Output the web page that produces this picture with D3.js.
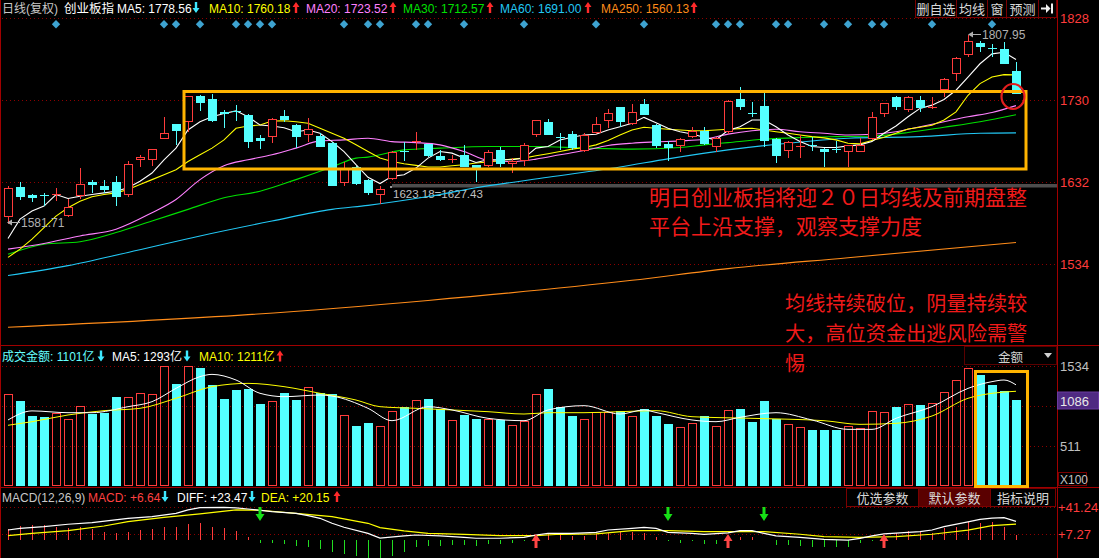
<!DOCTYPE html>
<html><head><meta charset="utf-8">
<script src="https://cdn.jsdelivr.net/npm/d3@7"></script>
<style>
html,body{margin:0;padding:0;background:#000;overflow:hidden}
svg{display:block;font-family:"Liberation Sans",Arial,"Noto Sans CJK SC",sans-serif}
</style></head><body>
<svg id="c" width="1099" height="558"></svg>
<script>
// ---------------- DATA ----------------
const opens = [1590,1626.5,1617.4,1617,1618,1591.7,1615.4,1632.5,1628,1632.5,
1617,1658.1,1658.9,1684.1,1701.6,1704.3,1735.1,1731.2,1715.4,1717.2,
1712.2,1685,1686.5,1711,1700.4,1688.5,1687.3,1679.4,1631.3,1650.2,
1635.2,1617,1636,1668.9,1680.5,1677.5,1663.6,1659.6,1664.8,1653,
1651.8,1670.7,1654.2,1657.7,1688.5,1703.6,1685.9,1689.7,1669.9,1691.2,
1705.5,1721.3,1701.2,1725.3,1700.4,1677.5,1675.5,1686.5,1693.6,1674.7,
1691.7,1731.2,1715.1,1722.9,1683.4,1669.9,1675.4,1676.8,1671.6,1671.7,
1668,1668.7,1683.4,1713.4,1734,1718.2,1730.8,1721.2,1741.9,1760.8,
1784.2,1798,1792.7,1791.3,1764.4];
const highs = [1627,1632.5,1618,1619.4,1625.4,1611.5,1649,1635.2,1635.2,1639.1,
1657.7,1664.8,1672,1710.2,1702,1735,1736,1737.1,1718.2,1724.1,
1713,1688.5,1708.3,1718.2,1701,1708.3,1691.2,1680,1655.7,1651,
1636,1627.3,1669,1680.6,1692.4,1678,1670.7,1664.8,1676.7,1653.2,
1670.7,1674.7,1660.9,1679.4,1706.5,1707.5,1691.2,1693.6,1690.5,1709.5,
1719,1722,1725.3,1732,1701,1681.4,1684.6,1697.6,1697.6,1686.5,
1730,1745.8,1727.3,1738.7,1684.6,1681.8,1688.5,1686.5,1672.8,1681.4,
1677,1684.6,1716.1,1727,1734.7,1734.5,1734.7,1734,1756,1781,
1808,1800.3,1797.2,1799.2,1775.4];
const lows = [1582,1610.6,1608,1603.6,1609.5,1591,1612.3,1619.4,1619.4,1603.6,
1614.7,1649.8,1651.8,1683.5,1676.7,1692,1717.3,1704.3,1697.2,1705.5,
1673.5,1671.6,1678.7,1704.3,1672.8,1680.7,1674,1627,1627.3,1629,
1617.4,1605.6,1635,1656.9,1670.7,1662,1657.7,1655,1650,1632,
1650.2,1650.2,1643.1,1651.8,1686.5,1688,1670,1670.7,1667.6,1690,
1696.5,1698.4,1700,1712,1672.8,1656.9,1668.7,1684.6,1677,1668.7,
1690,1718.2,1709.5,1674,1655,1661.6,1661.6,1669.9,1649.8,1666.8,
1649.8,1668,1683,1709.5,1718.2,1716.1,1716.1,1720,1734,1752.9,
1781.3,1787.3,1781.3,1773,1737.5];
const closes = [1625.4,1614.7,1613.5,1616.7,1618.3,1602.8,1630.1,1628.4,1623.3,1614.7,
1653.8,1662.1,1671.6,1690.5,1693.3,1734.7,1726.8,1705.5,1713,1716.9,
1680.6,1681.8,1707.1,1706.3,1686.5,1695.3,1674.7,1627.3,1649,1630.5,
1619.4,1624.2,1668.7,1668.6,1680.8,1662.8,1658.9,1659.9,1650.2,1649,
1668,1653.8,1656.9,1676.7,1706.3,1688.5,1685.7,1672.8,1688.5,1701.6,
1714.2,1704.3,1716.1,1712.2,1675.5,1672.8,1683.4,1693.6,1677.5,1684.6,
1729.2,1721.3,1714.9,1681.8,1663.6,1680.6,1675.7,1676.6,1667.6,1671.5,
1676.7,1676.7,1710.2,1726.8,1722.1,1734,1720.2,1721.4,1755.7,1780.6,
1800.3,1793.3,1792.5,1773.5,1737.9];

const ma5 = [1565,1588,1597.7,1603.6,1617.4,1612.7,1615.4,1617.5,1619.4,1621.3,
1625.4,1633.2,1643.1,1658.9,1672.8,1694.5,1704.3,1710.2,1714.2,1717.3,
1710.2,1700.4,1699.2,1697.2,1692.4,1694.5,1690.5,1680.6,1668.7,1653,
1638,1630.5,1639.1,1641.1,1649,1660.9,1668.7,1666.8,1660.9,1655.7,
1658.9,1658.9,1658.9,1660.9,1672.8,1674.7,1682.6,1685.8,1688.5,1689.4,
1694.5,1698.4,1702.4,1709.5,1703.2,1696.5,1692.4,1689.7,1685.8,1682.6,
1694,1698.4,1706.3,1706.3,1698.4,1688.5,1680.6,1674.7,1673.5,1673.5,
1675.5,1676.7,1680.6,1690.5,1699.2,1710.2,1720.2,1724.1,1730.8,1741.9,
1757.6,1773.5,1785.3,1787.3,1778.6];
const ma10 = [1542.4,1552.2,1564.1,1578,1591.7,1601.7,1609.5,1614.7,1617.4,1619.4,
1623.3,1629.3,1635.2,1641.1,1647.1,1656.9,1664.8,1672.8,1682.6,1696.5,
1699.2,1700.4,1705.1,1705.5,1704.3,1702.4,1696.5,1690.5,1684.6,1676.7,
1668.7,1660.9,1656.9,1654.2,1652.2,1650.2,1650.2,1651.8,1653,1655,
1656.3,1658.1,1659.7,1660.9,1663.6,1666,1668.7,1671.6,1673.5,1676.7,
1681.8,1688.5,1694.5,1697.7,1696.5,1695.3,1694.5,1693.6,1693.6,1694.5,
1695.3,1696.1,1696.5,1694.5,1692.4,1690.5,1688.5,1686.5,1685,1682.6,
1678.7,1677.9,1681.8,1685.8,1690.5,1695.6,1697.7,1700,1706.3,1716.1,
1735.9,1749.8,1757.6,1760.5,1760.2];
// sparse readings [candle index, value]
const ma20 = [[0,1552.2],[3,1559],[6,1568],[9,1576],[12,1595.7],[14,1611.5],[16,1635.2],[18,1651.8],[20,1658.9],[22,1664.8],[24,1672.8],[26,1681.4],[28,1682.6],[30,1684.6],[32,1680.6],[34,1679.4],[36,1676.7],[38,1668.7],[40,1658.1],[42,1656.9],[44,1659.7],[46,1664.8],[48,1669.9],[50,1675.9],[52,1678.7],[54,1680.2],[56,1681.4],[58,1683.4],[60,1689.5],[62,1693.6],[64,1695.3],[66,1692.4],[68,1690.5],[70,1688.5],[72,1689.4],[74,1692.4],[76,1698.4],[78,1704.3],[80,1710.2],[82,1715.4],[84,1723.5]];
const ma30 = [[0,1546],[3,1558],[6,1561],[9,1572],[12,1585.8],[15,1599.7],[18,1613.5],[21,1621.3],[24,1635.2],[27,1650.2],[29,1660.9],[30,1662.1],[33,1670.7],[36,1672.8],[40,1674.7],[44,1674.7],[48,1672.8],[52,1671.6],[56,1673.5],[58,1676.7],[60,1679.4],[63,1683.4],[66,1685.4],[69,1686.5],[72,1687.3],[75,1691.4],[78,1697.7],[81,1704.3],[84,1712.6]];
const ma60 = [[0,1520.7],[5,1532.5],[10,1548.3],[16,1568],[22,1585.8],[27,1599.7],[30,1604.5],[35,1615],[39,1625.4],[45,1638],[51,1650.2],[55,1660],[60,1670.7],[65,1678.7],[70,1684.6],[76,1686.5],[81,1690.5],[84,1691]];
const ma250 = [[0,1459],[20,1474],[35,1491],[52,1515],[60,1529],[70,1542],[84,1560.1]];

const volumes = [1176,1087,895,882,929,852,1018,920,937,1138,
1133,1185,1176,1530,1304,1530,1508,1291,1112,1227,
1240,1048,1082,1189,1099,1261,1185,1176,903,767,
805,763,954,1010,1095,1112,980,839,912,856,
856,848,775,827,1172,1240,1014,895,852,950,
950,959,895,984,895,793,750,805,895,763,
967,984,818,1087,861,788,750,716,716,716,
767,737,959,946,1010,1048,1035,1061,1202,1355,
1504,1423,1295,1219,1101];
const volMa5 = [[0,844],[2,960],[5,937],[7,937],[10,1014],[12,1078],[14,1248],[16,1398],[17,1427],[19,1355],[21,1185],[23,1142],[26,1163],[27,1150],[30,993],[32,835],[35,1014],[37,972],[40,865],[43,835],[45,972],[48,1027],[51,920],[53,972],[54,940],[57,844],[59,822],[61,878],[64,937],[67,844],[70,724],[72,724],[74,865],[77,1014],[80,1248],[82,1334],[83,1355],[84,1293]];
const volMa10 = [[0,776],[2,822],[5,908],[8,963],[11,993],[14,1121],[17,1270],[20,1312],[23,1270],[26,1185],[29,1099],[31,1014],[34,993],[37,972],[40,950],[43,920],[45,937],[48,937],[51,950],[54,963],[57,886],[62,865],[68,835],[71,788],[74,801],[77,895],[80,1121],[82,1185],[84,1211]];

const macdHist = [13.6,17.7,19,19,16.1,15.6,16.1,13.6,9.8,9.3,
10.6,12.7,14,16.9,16.9,20.3,21.9,16.9,15.6,11.8,
4.3,-4,-4,-4.9,-7,-8.3,-11.6,-14.6,-17.9,-20,
-23,-23,-20,-14.6,-8.3,-7.7,-7.7,-6.2,-6.2,-7,
-4.9,-4.5,-3.3,-1.2,1,7.7,7.3,5.2,5.6,7.3,
8.6,9.8,10.6,9.3,4.3,-1,-3.3,-1.2,-4.5,-4.5,
4,4,4,-0.5,-6,-6,-7,-8.3,-9,-9,
-8.3,-4,-1,4,9.5,11.5,10.6,9.3,14.6,16.9,
22.3,21.3,22.3,16.1,6.64];
const diffLine = [[0,12.7],[1,14.8],[3,16.9],[5,19.9],[7,21.9],[10,27.4],[12,29.4],[14,33.7],[15,38],[16,40.8],[18,41.2],[19,40.5],[20,39.1],[22,35.7],[24,33.7],[25,30.7],[26,27.4],[27,21.1],[28,16.1],[30,8.5],[31,2.5],[33,5.2],[34,6.4],[36,5.2],[38,3.5],[39,2.3],[41,2.3],[43,3.5],[44,6.4],[45,8.5],[47,8.5],[49,9.8],[50,12.7],[52,14.8],[53,16.1],[54,14.8],[55,9.8],[57,8.5],[58,7.3],[60,9],[61,12],[62,12],[63,8.5],[64,5.2],[66,3.5],[67,2.2],[68,1],[70,0],[71,2.2],[72,5.2],[73,7.7],[76,10.6],[77,12.7],[78,16.9],[80,23],[81,26.1],[82,27.7],[83,28.3],[84,23.47]];
const deaLine = [[0,5.6],[2,8.5],[5,11.9],[8,17.7],[10,23.2],[13,28.6],[16,33],[19,37.9],[21,37.5],[24,33.7],[27,29.4],[30,21.1],[31,15.6],[33,11.5],[35,8.5],[38,7.3],[41,5.5],[44,5.5],[46,7.3],[49,7.7],[52,11.8],[55,11.8],[58,10.6],[60,10.6],[63,10.6],[66,7.3],[68,4.3],[71,3.5],[74,4.3],[77,7.3],[80,12.5],[82,18.1],[84,20.15]];

const priceTicks = [1828,1730,1632,1534];
const volTicks = [1534,511];
const volGrid = [1534,1023,511];
const macdTicks = [41.24,7.27];
const signalDiamonds = [4,13,14,16,19,20,21,22,28,30,31,34,35,38,43,49,53,59,60,61,64,65,68,70,72,73,77,82];
const goldenCross = [44,60,73];
const deathCross = [21,55,63];

const mainLegend = [
  {t:"MA5: 1778.56", c:"#ffffff", dir:"down"},
  {t:"MA10: 1760.18", c:"#ffff00", dir:"up"},
  {t:"MA20: 1723.52", c:"#ff80ff", dir:"up"},
  {t:"MA30: 1712.57", c:"#00e000", dir:"up"},
  {t:"MA60: 1691.00", c:"#22c8f5", dir:"up"},
  {t:"MA250: 1560.13", c:"#ff8c1a", dir:"up"}];
const volLegend = [
  {t:"成交金额: 1101亿", c:"#66ffff", dir:"down"},
  {t:"MA5: 1293亿", c:"#ffffff", dir:"down"},
  {t:"MA10: 1211亿", c:"#ffff00", dir:"up"}];
const macdLegend = [
  {t:"MACD(12,26,9)", c:"#c8c8c8", dir:null},
  {t:"MACD: +6.64", c:"#ff4040", dir:"down"},
  {t:"DIFF: +23.47", c:"#ffffff", dir:"down"},
  {t:"DEA: +20.15", c:"#ffff00", dir:"up"}];
const topButtons = ["删自选","均线","窗","预测"];
const macdButtons = ["优选参数","默认参数","指标说明"];
const note1 = ["明日创业板指将迎２０日均线及前期盘整","平台上沿支撑，观察支撑力度"];
const note2 = ["均线持续破位，阴量持续较","大，高位资金出逃风险需警","惕"];

// ---------------- LAYOUT ----------------
const N = closes.length;
const AX = 1057;
const RED = "#ff3c3c", CYAN = "#54ffff", GRID = "#8c0000", FRAME = "#a00000";
const svg = d3.select("#c");
svg.append("rect").attr("width",1099).attr("height",558).attr("fill","#000");

const x = d3.scaleLinear().domain([0, N-1]).range([8, 1016]);
const yP = d3.scaleLinear().domain([1632,1730]).range([182.3,100.2]);
const yV = d3.scaleLinear().domain([0,1534]).range([486,366]);
const yM = d3.scaleLinear().domain([7.27,41.24]).range([534.3,507.3]);

// grids
const grid = svg.append("g").attr("stroke",GRID).attr("stroke-dasharray","1,3").attr("shape-rendering","crispEdges");
priceTicks.forEach(v=>grid.append("line").attr("x1",2).attr("x2",AX).attr("y1",Math.round(yP(v))+0.5).attr("y2",Math.round(yP(v))+0.5));
volGrid.forEach(v=>grid.append("line").attr("x1",2).attr("x2",AX).attr("y1",Math.round(yV(v))+0.5).attr("y2",Math.round(yV(v))+0.5));
macdTicks.forEach(v=>grid.append("line").attr("x1",2).attr("x2",AX).attr("y1",Math.round(yM(v))+0.5).attr("y2",Math.round(yM(v))+0.5));

// frame
const fr = svg.append("g").attr("stroke",FRAME).attr("shape-rendering","crispEdges");
fr.append("line").attr("x1",0.5).attr("x2",0.5).attr("y1",0).attr("y2",558);
fr.append("line").attr("x1",AX+0.5).attr("x2",AX+0.5).attr("y1",0).attr("y2",558);
fr.append("line").attr("x1",0).attr("x2",1099).attr("y1",345.5).attr("y2",345.5);
fr.append("line").attr("x1",0).attr("x2",1099).attr("y1",487.5).attr("y2",487.5);

// grey reference band + label
svg.append("rect").attr("x",392).attr("y",184).attr("width",AX-392).attr("height",3.5).attr("fill","#4d4d4d");
svg.append("rect").attr("x",390).attr("y",186).attr("width",2).attr("height",2).attr("fill","#9a9a9a");
svg.append("text").attr("x",393).attr("y",197.5).attr("fill","#c0c0c0").attr("font-size",11.5).text("1623.18=1627.43");

// MA lines (main)
const lineP = d3.line().x(d=>x(d[0])).y(d=>yP(d[1]));
const lineSmooth = d3.line().x(d=>x(d[0])).y(d=>yP(d[1])).curve(d3.curveMonotoneX);
const maG = svg.append("g").attr("fill","none").attr("stroke-width",1.1);
maG.append("path").attr("d",lineSmooth(ma250)).attr("stroke","#ff8c1a");
maG.append("path").attr("d",lineSmooth(ma60)).attr("stroke","#22c8f5");
maG.append("path").attr("d",lineSmooth(ma30)).attr("stroke","#00e000");
maG.append("path").attr("d",lineSmooth(ma20)).attr("stroke","#ff80ff");
maG.append("path").attr("d",lineP(ma10.map((v,i)=>[i,v]))).attr("stroke","#ffff00");
maG.append("path").attr("d",lineP(ma5.map((v,i)=>[i,v]))).attr("stroke","#ffffff");

// candles
const cg = svg.append("g").attr("shape-rendering","crispEdges");
d3.range(N).forEach(i=>{
  const cx = Math.round(x(i))+0.5, o=opens[i], c=closes[i], h=highs[i], l=lows[i];
  const up = c >= o;
  const yT = Math.round(yP(Math.max(o,c))), yB = Math.round(yP(Math.min(o,c)));
  if (up) {
    cg.append("line").attr("x1",cx).attr("x2",cx).attr("y1",yP(h)).attr("y2",yT).attr("stroke",RED);
    cg.append("line").attr("x1",cx).attr("x2",cx).attr("y1",yB).attr("y2",yP(l)).attr("stroke",RED);
    cg.append("rect").attr("x",cx-4).attr("y",yT+0.5).attr("width",8).attr("height",Math.max(0.01,yB-yT-1))
      .attr("fill","#000").attr("stroke",RED);
  } else {
    cg.append("line").attr("x1",cx).attr("x2",cx).attr("y1",yP(h)).attr("y2",yP(l)).attr("stroke",CYAN);
    cg.append("rect").attr("x",cx-4.5).attr("y",yT).attr("width",9).attr("height",Math.max(1,yB-yT)).attr("fill",CYAN);
  }
});

// signal diamonds
svg.append("g").selectAll("path").data(signalDiamonds).join("path")
  .attr("d",d=>`M${x(d)},20 L${x(d)+4.2},24.3 L${x(d)},28.6 L${x(d)-4.2},24.3 Z`).attr("fill","#3ea3d0");

// annotation boxes
svg.append("rect").attr("x",184).attr("y",91.5).attr("width",842).attr("height",77.5).attr("fill","none").attr("stroke","#ffb400").attr("stroke-width",3);
svg.append("ellipse").attr("cx",1013).attr("cy",96.5).attr("rx",11.5).attr("ry",12.5).attr("fill","none").attr("stroke","#e41e1e").attr("stroke-width",2.2);

// extreme labels
function leftArrow(x0,x1,y,col){
  svg.append("line").attr("x1",x0+3).attr("x2",x1).attr("y1",y).attr("y2",y).attr("stroke",col);
  svg.append("path").attr("d",`M${x0},${y} L${x0+5},${y-3} L${x0+5},${y+3} Z`).attr("fill",col);
}
leftArrow(7,20,222.5,"#b0b0b0");
svg.append("text").attr("x",21).attr("y",227).attr("fill","#b0b0b0").attr("font-size",12).text(d3.format(".2f")(1581.71));
leftArrow(968,981,34.5,"#b0b0b0");
svg.append("text").attr("x",982).attr("y",39).attr("fill","#b0b0b0").attr("font-size",12).text(d3.format(".2f")(1807.95));

// red comments
const nt = svg.append("g").attr("fill","#f01a1a").attr("font-family","'Noto Sans CJK SC',sans-serif");
note1.forEach((t,k)=>nt.append("text").attr("x",649).attr("y",196+k*29).attr("font-size",21).attr("dominant-baseline","central").text(t));
note2.forEach((t,k)=>nt.append("text").attr("x",785).attr("y",302+k*30).attr("font-size",20.2).attr("dominant-baseline","central").text(t));

// volume bars
const vg = svg.append("g").attr("shape-rendering","crispEdges");
d3.range(N).forEach(i=>{
  const cx = Math.round(x(i))+0.5, up = closes[i]>=opens[i];
  const yt = Math.round(yV(volumes[i]));
  if (up) vg.append("rect").attr("x",cx-4).attr("y",yt+0.5).attr("width",8).attr("height",486-yt-1).attr("fill","none").attr("stroke",RED);
  else vg.append("rect").attr("x",cx-4.5).attr("y",yt).attr("width",9).attr("height",486-yt).attr("fill",CYAN);
});
const lineV = d3.line().x(d=>x(d[0])).y(d=>yV(d[1])).curve(d3.curveMonotoneX);
svg.append("path").attr("d",lineV(volMa10)).attr("fill","none").attr("stroke","#ffff00");
svg.append("path").attr("d",lineV(volMa5)).attr("fill","none").attr("stroke","#ffffff");
svg.append("rect").attr("x",975.5).attr("y",371.5).attr("width",52).attr("height",115).attr("fill","none").attr("stroke","#ffb400").attr("stroke-width",3);

// MACD
const mg = svg.append("g").attr("shape-rendering","crispEdges");
macdHist.forEach((v,i)=>{
  const cx = Math.round(x(i))+0.5;
  mg.append("line").attr("x1",cx).attr("x2",cx).attr("y1",yM(0)).attr("y2",yM(v)).attr("stroke", v>=0? "#ff3c3c":"#22dd22").attr("stroke-width",1);
});
const lineM = d3.line().x(d=>x(d[0])).y(d=>yM(d[1]));
svg.append("path").attr("d",lineM(deaLine)).attr("fill","none").attr("stroke","#ffff00").attr("stroke-width",1.2);
svg.append("path").attr("d",lineM(diffLine)).attr("fill","none").attr("stroke","#ffffff").attr("stroke-width",1.2);

function arrow(cx,yTop,h,w,headH,stemW,dir,col){
  const hw=w/2, sw=stemW/2;
  let d;
  if (dir==="up") d=`M${cx},${yTop} L${cx+hw},${yTop+headH} L${cx+sw},${yTop+headH} L${cx+sw},${yTop+h} L${cx-sw},${yTop+h} L${cx-sw},${yTop+headH} L${cx-hw},${yTop+headH} Z`;
  else d=`M${cx},${yTop+h} L${cx+hw},${yTop+h-headH} L${cx+sw},${yTop+h-headH} L${cx+sw},${yTop} L${cx-sw},${yTop} L${cx-sw},${yTop+h-headH} L${cx-hw},${yTop+h-headH} Z`;
  svg.append("path").attr("d",d).attr("fill",col);
}
deathCross.forEach(i=>arrow(x(i),507,14,9,7,3,"down","#16e016"));
goldenCross.forEach(i=>arrow(x(i),534,14,9,7,3,"up","#ff4545"));

// axes
function styleAxis(g,col){
  g.select(".domain").remove();
  g.attr("font-family","'Liberation Sans',Arial,sans-serif").attr("font-size",13);
  g.selectAll("text").attr("fill",col);
}
svg.append("g").attr("transform",`translate(${AX+3},0)`)
  .call(d3.axisRight(yP).tickValues(priceTicks).tickSize(0).tickPadding(0).tickFormat(d3.format("d")))
  .call(g=>styleAxis(g,"#ff3c3c"));
svg.append("g").attr("transform",`translate(${AX+3},0)`)
  .call(d3.axisRight(yV).tickValues(volTicks).tickSize(0).tickPadding(0).tickFormat(d3.format("d")))
  .call(g=>styleAxis(g,"#c0c0c0"));
svg.append("g").attr("transform",`translate(${AX+1},0)`)
  .call(d3.axisRight(yM).tickValues(macdTicks).tickSize(0).tickPadding(0).tickFormat(d3.format("+.2f")))
  .call(g=>styleAxis(g,"#ff3c3c"));
// current volume box
svg.append("rect").attr("x",AX+0.5).attr("y",392).attr("width",41).attr("height",17).attr("fill","#4f2a82").attr("stroke","#6a3aa0");
svg.append("text").attr("x",AX+3).attr("y",yV(1086)+5).attr("fill","#e8e8e8").attr("font-size",13).text("1086");
svg.append("rect").attr("x",AX+1.5).attr("y",472.5).attr("width",28).attr("height",13).attr("fill","none").attr("stroke","#7a0000");
svg.append("text").attr("x",AX+3).attr("y",483.5).attr("fill","#c0c0c0").attr("font-size",12).text("X100");

// legends
function legend(items, xs, axs, yBase, fs){
  items.forEach((it,k)=>{
    svg.append("text").attr("x",xs[k]).attr("y",yBase).attr("fill",it.c).attr("font-size",fs).text(it.t);
    if (it.dir) arrow(axs[k], yBase-10.5, 11, 7, 5, 2.4, it.dir, it.dir==="up"?"#ff2a2a":"#3ee8ff");
  });
}
svg.append("text").attr("x",2).attr("y",12.5).attr("fill","#c8c8c8").attr("font-size",12).text("日线(复权)");
svg.append("text").attr("x",64).attr("y",12.5).attr("fill","#ffffff").attr("font-size",12.5).text("创业板指");
legend(mainLegend,[117,209,306,403,500,601],[196,296,393,490,588,694],12.5,12);
legend(volLegend,[2,112,199],[101,187,280],361,12);
legend(macdLegend,[2,88,177,261],[0,165,252,337],501.5,12);

// buttons
function buttons(labels, edges, y0, h, activeIdx){
  labels.forEach((t,k)=>{
    svg.append("rect").attr("x",edges[k]+0.5).attr("y",y0+0.5).attr("width",edges[k+1]-edges[k]).attr("height",h)
      .attr("fill",k===activeIdx?"#5a0000":"#000").attr("stroke","#7a0000");
    svg.append("text").attr("x",(edges[k]+edges[k+1])/2+0.5).attr("y",y0+h/2+0.5).attr("text-anchor","middle").attr("dominant-baseline","central")
      .attr("fill","#d8d8d8").attr("font-family","'Noto Sans CJK SC',sans-serif").attr("font-size",13).text(t);
  });
}
buttons(topButtons,[915,956,987,1006,1038],-1,18,-1);
svg.append("rect").attr("x",1038.5).attr("y",-0.5).attr("width",18).attr("height",18).attr("fill","#000").attr("stroke","#7a0000");
svg.append("path").attr("d","M1041,7.5 L1046,7.5 L1046,4 L1050.5,8.5 L1046,13 L1046,9.5 L1041,9.5 Z").attr("fill","#f0f0f0");
svg.append("rect").attr("x",1051).attr("y",3.5).attr("width",2).attr("height",10).attr("fill","#f0f0f0");
buttons(macdButtons,[846,918,990,1055],488,18,1);
// 金额 box
svg.append("rect").attr("x",964.5).attr("y",346.5).attr("width",92).attr("height",18).attr("fill","#000").attr("stroke","#5a0000");
svg.append("text").attr("x",998).attr("y",356).attr("dominant-baseline","central").attr("fill","#d0d0d0").attr("font-family","'Noto Sans CJK SC',sans-serif").attr("font-size",12.5).text("金额");
svg.append("path").attr("d","M1044,353 L1052,353 L1048,358 Z").attr("fill","#d0d0d0");
</script></body></html>
